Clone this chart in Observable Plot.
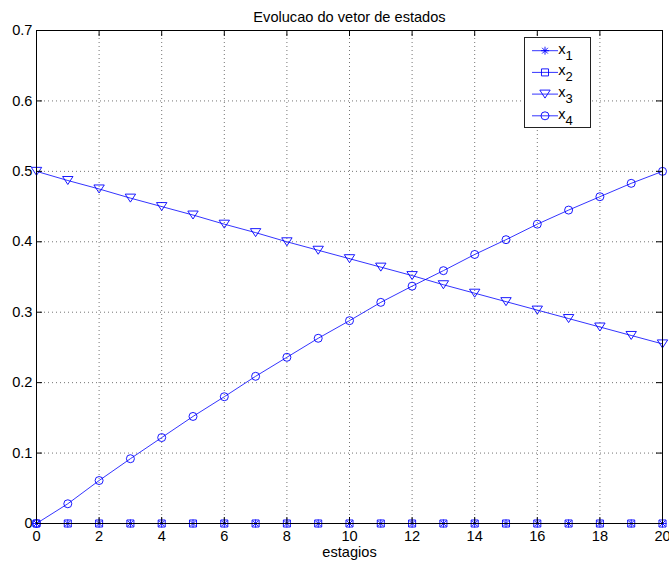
<!DOCTYPE html>
<html><head><meta charset="utf-8">
<script src="https://cdn.jsdelivr.net/npm/d3@7"></script>
<script src="https://cdn.jsdelivr.net/npm/@observablehq/plot@0.6"></script>
<style>body{margin:0;background:#fff}#chart{width:669px;height:563px}</style>
</head><body><div id="chart"></div>
<script>
const stages = [0,1,2,3,4,5,6,7,8,9,10,11,12,13,14,15,16,17,18,19,20];
const x1 = [0,0,0,0,0,0,0,0,0,0,0,0,0,0,0,0,0,0,0,0,0];
const x2 = [0,0,0,0,0,0,0,0,0,0,0,0,0,0,0,0,0,0,0,0,0];
const x3 = [0.500,0.487,0.475,0.462,0.450,0.438,0.425,0.413,0.400,0.388,0.376,0.364,0.352,0.339,0.327,0.315,0.303,0.291,0.279,0.267,0.255];
const x4 = [0.000,0.028,0.061,0.092,0.122,0.152,0.180,0.209,0.236,0.263,0.288,0.314,0.337,0.359,0.382,0.403,0.425,0.445,0.464,0.483,0.500];
const seriesNames = ["x1","x2","x3","x4"];
const seriesSubs = ["1","2","3","4"];
const xTicks = [0,2,4,6,8,10,12,14,16,18,20];
const yTicks = [0,0.1,0.2,0.3,0.4,0.5,0.6,0.7];
const yTickLabels = ["0","0.1","0.2","0.3","0.4","0.5","0.6","0.7"];
const titleText = "Evolucao do vetor de estados";
const xLabelText = "estagios";

// custom MATLAB-like marker symbols (size = PI*r^2)
const rOf = s => Math.sqrt(s / Math.PI);
const symAsterisk = {draw(c, s){ const r = rOf(s); const d = r*0.72;
  c.moveTo(-r,0); c.lineTo(r,0); c.moveTo(0,-r); c.lineTo(0,r);
  c.moveTo(-d,-d); c.lineTo(d,d); c.moveTo(-d,d); c.lineTo(d,-d);}};
const symSquare = {draw(c, s){ const h = rOf(s)*0.88; c.rect(-h,-h,2*h,2*h);}};
const symTriDown = {draw(c, s){ const r = rOf(s); c.moveTo(-1.3*r,-r); c.lineTo(1.3*r,-r); c.lineTo(0,r); c.closePath();}};
const symCircle = {draw(c, s){ const r = rOf(s); c.moveTo(r,0); c.arc(0,0,r,0,2*Math.PI);}};
const symbols = [symAsterisk, symSquare, symTriDown, symCircle];
const values = [x1, x2, x3, x4];

const W = 669, H = 563, mL = 36, mR = 7, mT = 30, mB = 40;
const pw = W - mL - mR, ph = H - mT - mB;
const blue = "#0000ff";
const FS = 14.6;

const seriesMarks = [];
values.forEach((vals, i) => {
  const rows = stages.map((s, j) => ({stage: s, value: vals[j]}));
  seriesMarks.push(Plot.line(rows, {x: "stage", y: "value", stroke: blue, strokeWidth: 0.8}));
  seriesMarks.push(Plot.dot(rows, {x: "stage", y: "value", symbol: symbols[i], r: 4, stroke: blue, strokeWidth: 0.9, fill: "none"}));
});

const chart = Plot.plot({
  width: W, height: H,
  marginLeft: mL, marginRight: mR, marginTop: mT, marginBottom: mB,
  style: {fontFamily: "'Liberation Sans', Arial, sans-serif", fontSize: FS + "px", background: "#fff", color: "#000"},
  x: {domain: [0, 20], axis: null},
  y: {domain: [0, 0.7], axis: null},
  marks: [
    Plot.ruleX(xTicks, {x: d => d, stroke: "#000", strokeOpacity: 0.55, strokeDasharray: "1,3"}),
    Plot.ruleY(yTicks, {y: d => d, stroke: "#000", strokeOpacity: 0.55, strokeDasharray: "1,3"}),
    ...seriesMarks,
    Plot.tickX(xTicks, {x: d => d, insetTop: ph - 6, stroke: "#000"}),
    Plot.tickX(xTicks, {x: d => d, insetBottom: ph - 6, stroke: "#000"}),
    Plot.tickY(yTicks, {y: d => d, insetRight: pw - 6, stroke: "#000"}),
    Plot.tickY(yTicks, {y: d => d, insetLeft: pw - 6, stroke: "#000"}),
    Plot.frame({stroke: "#000"}),
    Plot.text(xTicks, {x: d => d, text: d => String(d), frameAnchor: "bottom", lineAnchor: "top", dy: 7, fill: "#000", fontSize: FS}),
    Plot.text(yTicks, {y: d => d, text: (d, i) => yTickLabels[i], frameAnchor: "left", textAnchor: "end", dx: -4, fill: "#000", fontSize: FS}),
    Plot.text([titleText], {text: d => d, frameAnchor: "top", lineAnchor: "bottom", dy: -9, fill: "#000", fontSize: FS}),
    Plot.text([xLabelText], {text: d => d, frameAnchor: "bottom", lineAnchor: "bottom", dy: 33, fill: "#000", fontSize: FS})
  ]
});
document.getElementById("chart").appendChild(chart);

// legend (MATLAB style box, top right inside axes)
const svg = d3.select(chart);
const lg = svg.append("g").attr("font-family", "'Liberation Sans', Arial, sans-serif");
const lx = 524.5, ly = 37.5, lw = 66, lh = 90;
lg.append("rect").attr("x", lx).attr("y", ly).attr("width", lw).attr("height", lh)
  .attr("fill", "#fff").attr("stroke", "#222").attr("stroke-width", 1);
seriesNames.forEach((name, i) => {
  const cy = 50.7 + i * 21.7;
  lg.append("line").attr("x1", 532).attr("x2", 558).attr("y1", cy).attr("y2", cy)
    .attr("stroke", blue).attr("stroke-width", 0.8);
  lg.append("path").attr("transform", `translate(545,${cy})`)
    .attr("d", d3.symbol(symbols[i], Math.PI * 16)())
    .attr("fill", "none").attr("stroke", blue).attr("stroke-width", 0.9);
  const t = lg.append("text").attr("x", 565.5).attr("y", cy + 3).attr("font-size", FS).attr("fill", "#000");
  t.append("tspan").text("x");
  t.append("tspan").attr("dy", 6).attr("font-size", 13).text(seriesSubs[i]);
});
</script>
</body></html>
